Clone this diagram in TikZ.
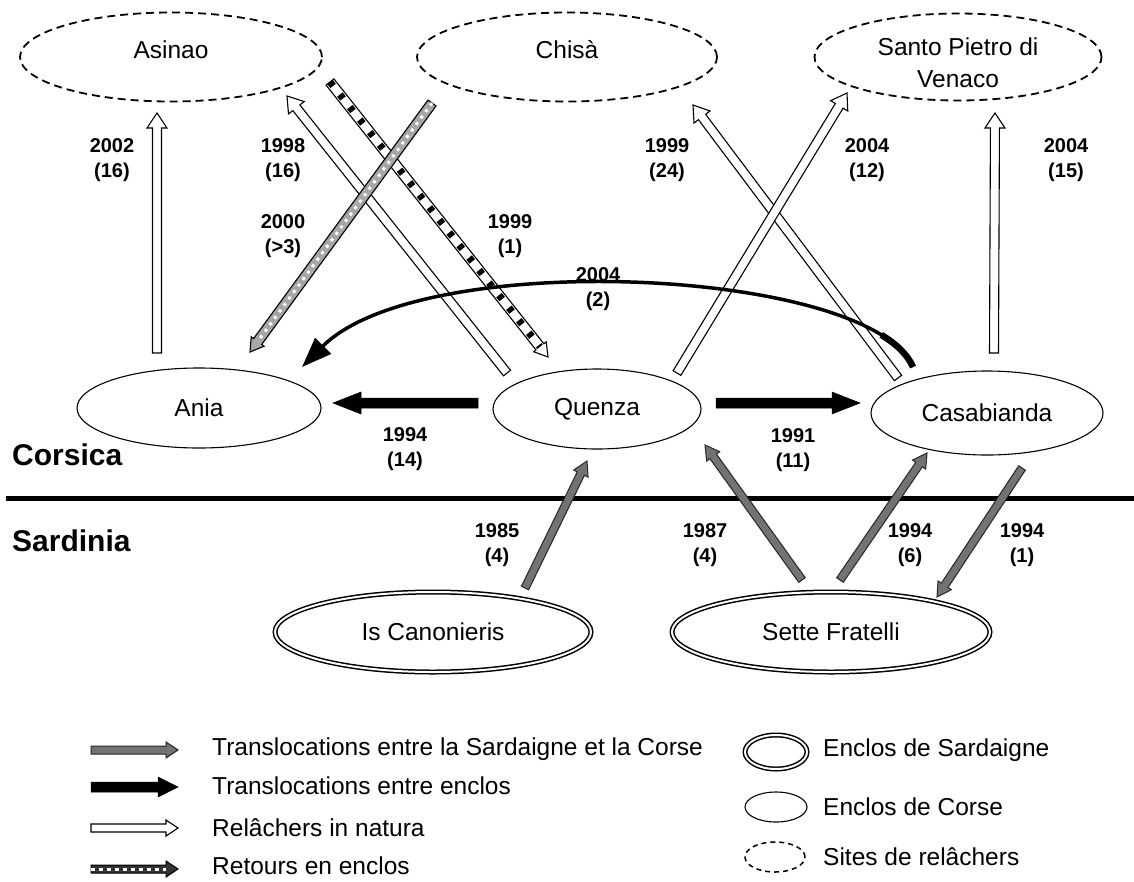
\documentclass[tikz,border=0pt]{standalone}
\usepackage{fontspec}
\setmainfont{Liberation Sans}
\usetikzlibrary{calc,shapes.geometric,arrows.meta}
\newcommand\dgNodeFont{\fontsize{24.5}{32}\selectfont}
\newcommand\dgLblFont{\fontsize{20}{25}\selectfont\bfseries}
% block arrow: #1 style, #2 from, #3 to (tip), #4 half shaft width, #5 half head width, #6 head length
\newcommand\blockarr[6]{%
  \coordinate (bH) at ($(#3)!#6!(#2)$);
  \path[#1] ($(#2)!#4!90:(#3)$) -- ($(bH)!#4!-90:(#2)$) -- ($(bH)!#5!-90:(#2)$) -- (#3)
    -- ($(bH)!#5!90:(#2)$) -- ($(bH)!#4!90:(#2)$) -- ($(#2)!#4!-90:(#3)$) -- cycle;}
\begin{document}
\begin{tikzpicture}[x=1pt,y=-1pt,
  site/.style={ellipse,draw,dash pattern=on 8pt off 5pt,line width=1.8pt,inner sep=0pt,font=\dgNodeFont,align=center},
  sitetext/.style={font=\dgNodeFont,align=center,inner sep=0pt},
  corse/.style={ellipse,draw,line width=1.1pt,inner sep=0pt,font=\dgNodeFont},
  sard/.style={ellipse,draw,line width=1.5pt,double=white,double distance=2pt,inner sep=0pt,font=\dgNodeFont},
  lbl/.style={font=\dgLblFont,align=center,inner sep=0pt},
  legtxt/.style={anchor=west,font=\dgNodeFont,inner sep=0pt},
  sect/.style={anchor=base west,font=\fontsize{30}{36}\selectfont\bfseries,inner sep=0pt},
  wht/.style={draw=black,fill=white,line width=1.1pt},
  blk/.style={draw=black,fill=black,line width=0.5pt},
  gry/.style={draw=black!85,fill=black!55,line width=1pt},
  retw/.style={draw=black,fill=white,line width=1.1pt},
  retg/.style={draw=black,fill=black!35,line width=1.1pt},
  retd/.style={draw=black,fill=black!80,line width=1pt},
]
\useasboundingbox (0,0) rectangle (1134,881);

% island divider
\coordinate (divL) at (6,498);
\coordinate (divR) at (1134,498);
\draw[line width=5pt] (divL) -- (divR);
\node[sect] (corsica) at (12,465) {Corsica};
\node[sect] (sardinia) at (12,551) {Sardinia};

% release sites
\node[site,minimum width=302pt,minimum height=89pt,
  label={[sitetext,yshift=7pt]center:Asinao}] (asinao) at (171,57) {};
\node[site,minimum width=300pt,minimum height=89pt,
  label={[sitetext,yshift=7pt]center:Chisà}] (chisa) at (567,57) {};
\node[site,minimum width=287pt,minimum height=87pt,
  label={[sitetext,yshift=-6pt]center:{Santo Pietro di\\Venaco}}] (santo) at (958,57) {};

% Corsican enclosures
\node[corse,minimum width=244pt,minimum height=80pt] (ania) at (199,408) {Ania};
\node[corse,minimum width=208pt,minimum height=80pt] (quenza) at (597,409) {Quenza};
\node[corse,minimum width=232pt,minimum height=84pt] (casa) at (987,413) {Casabianda};

% Sardinian enclosures
\node[sard,minimum width=316pt,minimum height=80pt] (iscan) at (433,632) {Is Canonieris};
\node[sard,minimum width=318pt,minimum height=80pt] (sette) at (831,632) {Sette Fratelli};

% connector end points
\coordinate (aniaR1) at (157,353);   \coordinate (asiA) at (157,113);
\coordinate (quenR1) at (507,373);   \coordinate (asiB) at (287,96);
\coordinate (casaR1) at (898,378);   \coordinate (chiA) at (693,105);
\coordinate (quenR2) at (677,373);   \coordinate (sanA) at (847,93);
\coordinate (casaR2) at (994,353);   \coordinate (sanB) at (995,113);
\coordinate (quenL) at (478,403);    \coordinate (aniaE) at (333,403);
\coordinate (quenE) at (716,403);    \coordinate (casaW) at (860,403);
\coordinate (casaC) at (913,367);    \coordinate (aniaC) at (302,367);
\coordinate (iscanN) at (525,588);   \coordinate (quenS1) at (587,461);
\coordinate (setteN1) at (802,580);  \coordinate (quenS2) at (705,445);
\coordinate (setteN2) at (840,580);  \coordinate (casaS1) at (927,453);
\coordinate (casaS2) at (1022,468);  \coordinate (setteE) at (937,597);
\coordinate (asiR) at (330,82);      \coordinate (quenN) at (548,357);
\coordinate (chiR) at (432,103);     \coordinate (aniaN) at (250,352);

% releases in natura
\blockarr{wht}{aniaR1}{asiA}{4.5pt}{10pt}{15pt}
\blockarr{wht}{quenR1}{asiB}{4.5pt}{10pt}{15pt}
\blockarr{wht}{casaR1}{chiA}{4.5pt}{10pt}{15pt}
\blockarr{wht}{quenR2}{sanA}{4.5pt}{10pt}{15pt}
\blockarr{wht}{casaR2}{sanB}{4.5pt}{10pt}{15pt}

% returns to enclosures
\blockarr{retw}{asiR}{quenN}{5pt}{8pt}{13pt}
\draw[line width=7pt,dash pattern=on 5pt off 11pt] (asiR) -- (bH);
\blockarr{retg}{chiR}{aniaN}{5pt}{8pt}{13pt}
\draw[line width=3pt,white,dash pattern=on 3pt off 5pt] (chiR) -- (bH);

% translocations between enclosures
\blockarr{blk}{quenL}{aniaE}{5pt}{11pt}{28pt}
\blockarr{blk}{quenE}{casaW}{5pt}{11pt}{28pt}
\draw[line width=3.5pt,-{Triangle[length=30pt,width=22pt]}] (casaC) .. controls (870,268) and (422,247) .. (aniaC);
\draw[line width=6.5pt] (casaC) .. controls (907.8,355.1) and (896.9,344.3) .. (881.3,334.9);

% translocations Sardinia - Corsica
\blockarr{gry}{iscanN}{quenS1}{4pt}{8pt}{14pt}
\blockarr{gry}{setteN1}{quenS2}{4pt}{8pt}{14pt}
\blockarr{gry}{setteN2}{casaS1}{4pt}{8pt}{14pt}
\blockarr{gry}{casaS2}{setteE}{4pt}{8pt}{14pt}

% labels
\node[lbl] (l2002) at (112,160) {2002\\(16)};
\node[lbl] (l1998) at (283,160) {1998\\(16)};
\node[lbl] (l1999b) at (667,160) {1999\\(24)};
\node[lbl] (l2004a) at (867,160) {2004\\(12)};
\node[lbl] (l2004b) at (1066,160) {2004\\(15)};
\node[lbl] (l2000) at (283,236) {2000\\(>3)};
\node[lbl] (l1999a) at (510,236) {1999\\(1)};
\node[lbl] (l2004c) at (598,289) {2004\\(2)};
\node[lbl] (l1994a) at (405,449) {1994\\(14)};
\node[lbl] (l1991) at (793,450) {1991\\(11)};
\node[lbl] (l1985) at (497,545) {1985\\(4)};
\node[lbl] (l1987) at (705,545) {1987\\(4)};
\node[lbl] (l1994b) at (910,545) {1994\\(6)};
\node[lbl] (l1994c) at (1022,545) {1994\\(1)};

% legend
\coordinate (g1a) at (91,750); \coordinate (g1b) at (178,750);
\coordinate (g2a) at (91,787); \coordinate (g2b) at (178,787);
\coordinate (g3a) at (91,828); \coordinate (g3b) at (178,828);
\coordinate (g4a) at (91,869); \coordinate (g4b) at (178,869);
\blockarr{gry}{g1a}{g1b}{4pt}{8pt}{12pt}
\blockarr{blk}{g2a}{g2b}{5pt}{10pt}{20pt}
\blockarr{wht}{g3a}{g3b}{4pt}{8pt}{12pt}
\blockarr{retd}{g4a}{g4b}{4pt}{8pt}{12pt}
\draw[line width=3pt,white,dash pattern=on 4pt off 4pt] (g4a) -- (bH);
\node[legtxt] (t1) at (212,749) {Translocations entre la Sardaigne et la Corse};
\node[legtxt] (t2) at (212,786) {Translocations entre enclos};
\node[legtxt] (t3) at (212,828) {Relâchers in natura};
\node[legtxt] (t4) at (212,866) {Retours en enclos};
\node[sard,minimum width=62pt,minimum height=34pt] (k1) at (776,752) {};
\node[corse,minimum width=62pt,minimum height=30pt] (k2) at (776,807) {};
\node[site,line width=1.5pt,dash pattern=on 5pt off 4pt,minimum width=60pt,minimum height=30pt] (k3) at (775,857) {};
\node[legtxt] (t5) at (823,750) {Enclos de Sardaigne};
\node[legtxt] (t6) at (823,807) {Enclos de Corse};
\node[legtxt] (t7) at (823,857) {Sites de relâchers};
\end{tikzpicture}
\end{document}
